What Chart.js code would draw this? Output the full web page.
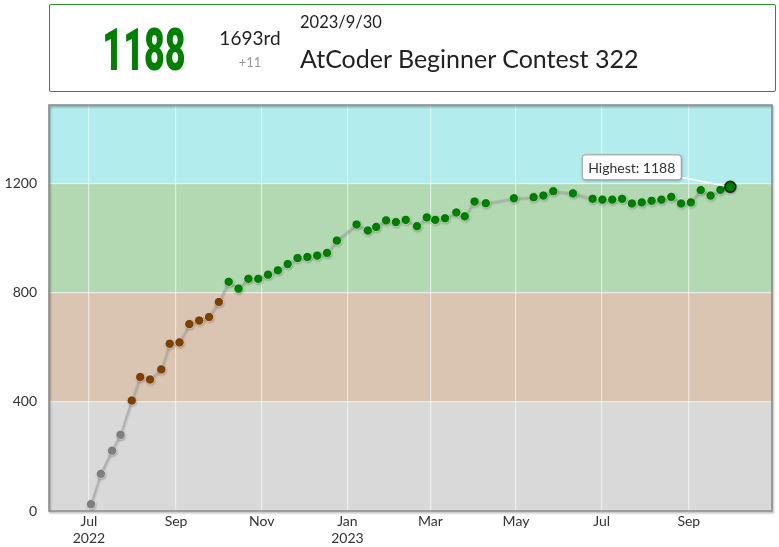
<!DOCTYPE html>
<html>
<head>
<meta charset="utf-8">
<script src="https://cdn.jsdelivr.net/npm/chart.js@4.4.0/dist/chart.umd.min.js"></script>
<style>
  html, body { margin: 0; padding: 0; background: #fff; }
  body { width: 779px; height: 547px; position: relative; overflow: hidden; font-family: Lato, "Open Sans", sans-serif; }
  #chart { position: absolute; left: 0; top: 0; }
  #head { position: absolute; left: 49px; top: 4px; width: 725px; height: 86px; border: 1px solid #2a8f2a; border-radius: 2px; }
  .t { position: absolute; white-space: nowrap; line-height: 1; }
</style>
</head>
<body>
<canvas id="chart" width="779" height="547"></canvas>
<div id="head"></div>
<div class="t" id="rating" style="left:144px; top:20px; font-family: Roboto, sans-serif; font-weight:900; font-size:60px; color:#008000; transform: translateX(-50%) scaleX(0.6);">1188</div>
<div class="t" id="rank" style="left:250px; top:28px; font-size:19px; color:#222; transform: translateX(-50%);">1693rd</div>
<div class="t" id="diff" style="left:250px; top:56px; font-size:13px; color:#999; transform: translateX(-50%);">+11</div>
<div class="t" id="date" style="left:300px; top:14px; font-size:16.5px; color:#222;">2023/9/30</div>
<div class="t" id="contest" style="left:300px; top:46px; font-size:25px; color:#222;">AtCoder Beginner Contest 322</div>
<script>
// ---- data ----
const contestDates = ["2022-07-02","2022-07-09","2022-07-17","2022-07-23","2022-07-31","2022-08-06","2022-08-13","2022-08-21","2022-08-27","2022-09-03","2022-09-10","2022-09-17","2022-09-24","2022-10-01","2022-10-08","2022-10-15","2022-10-22","2022-10-29","2022-11-05","2022-11-12","2022-11-19","2022-11-26","2022-12-03","2022-12-10","2022-12-17","2022-12-24","2023-01-07","2023-01-15","2023-01-21","2023-01-28","2023-02-04","2023-02-11","2023-02-19","2023-02-26","2023-03-04","2023-03-11","2023-03-19","2023-03-25","2023-04-01","2023-04-09","2023-04-29","2023-05-13","2023-05-20","2023-05-27","2023-06-10","2023-06-24","2023-07-01","2023-07-08","2023-07-15","2023-07-22","2023-07-29","2023-08-05","2023-08-12","2023-08-19","2023-08-26","2023-09-02","2023-09-09","2023-09-16","2023-09-23","2023-09-30"];
const ratings = [25,136,221,279,405,491,482,519,613,618,685,698,711,766,840,815,851,851,866,882,905,927,931,936,946,991,1050,1028,1041,1065,1059,1067,1044,1076,1067,1073,1094,1080,1134,1128,1146,1150,1156,1172,1164,1144,1141,1141,1144,1127,1131,1137,1141,1151,1127,1131,1176,1156,1177,1188];
const yTicks = [0, 400, 800, 1200];
const xTickDates = ["2022-07-01","2022-09-01","2022-11-01","2023-01-01","2023-03-01","2023-05-01","2023-07-01","2023-09-01"];
const xTickLabels = [["Jul","2022"],["Sep"],["Nov"],["Jan","2023"],["Mar"],["May"],["Jul"],["Sep"]];
const bandBounds = [0, 400, 800, 1200];
const bandColors = ["rgba(128,128,128,0.3)","rgba(128,64,0,0.3)","rgba(0,128,0,0.3)","rgba(0,192,192,0.3)"];
const highestLabel = "Highest: 1188";

function toMs(s, h) { const p = s.split("-").map(Number); return Date.UTC(p[0], p[1]-1, p[2], h || 0); }
const points = contestDates.map((d, i) => ({ x: toMs(d, 12), y: ratings[i] }));
const highestIdx = ratings.indexOf(Math.max(...ratings));
const xTickVals = xTickDates.map(d => toMs(d, 0));

function rateColor(v) {
  if (v < 400) return "#808080";
  if (v < 800) return "#804000";
  return "#008000";
}

const bgPlugin = {
  id: "bands",
  beforeDraw(chart) {
    const { ctx, chartArea: a, scales: { y } } = chart;
    ctx.save();
    for (let i = 0; i < bandBounds.length; i++) {
      const lo = y.getPixelForValue(bandBounds[i]);
      const hi = i + 1 < bandBounds.length ? y.getPixelForValue(bandBounds[i+1]) : a.top;
      const t = Math.max(hi, a.top), b = Math.min(lo, a.bottom);
      ctx.fillStyle = "#fff";
      ctx.fillRect(a.left, t, a.right - a.left, b - t);
      ctx.fillStyle = bandColors[i];
      ctx.fillRect(a.left, t, a.right - a.left, b - t);
    }
    ctx.restore();
  },
  beforeDatasetsDraw(chart) {
    const { ctx, chartArea: a } = chart;
    ctx.save();
    ctx.shadowColor = "rgba(0,0,0,0.35)";
    ctx.shadowBlur = 2;
    ctx.shadowOffsetX = 1;
    ctx.shadowOffsetY = 1.5;
    ctx.strokeStyle = "#888";
    ctx.lineWidth = 1.5;
    ctx.strokeRect(a.left, a.top, a.right - a.left, a.bottom - a.top);
    ctx.restore();
    ctx.save();
    ctx.shadowColor = "rgba(0,0,0,0.25)";
    ctx.shadowBlur = 2;
    ctx.shadowOffsetX = 0.5;
    ctx.shadowOffsetY = 1;
  },
  afterDatasetsDraw(chart) {
    const { ctx } = chart;
    ctx.restore();
    const el = chart.getDatasetMeta(0).data[highestIdx];
    const px = el.x, py = el.y;
    ctx.save();
    ctx.strokeStyle = "#fff";
    ctx.lineWidth = 1.5;
    ctx.beginPath();
    ctx.moveTo(px - 52, py - 10);
    ctx.lineTo(px - 6, py - 1);
    ctx.stroke();
    const bx = px - 148, by = py - 32, bw = 99, bh = 25;
    ctx.shadowColor = "rgba(0,0,0,0.3)";
    ctx.shadowBlur = 3;
    ctx.shadowOffsetX = 1;
    ctx.shadowOffsetY = 1;
    ctx.fillStyle = "#fff";
    ctx.beginPath();
    ctx.roundRect(bx, by, bw, bh, 3);
    ctx.fill();
    ctx.shadowColor = "transparent";
    ctx.strokeStyle = "#999";
    ctx.lineWidth = 1;
    ctx.stroke();
    ctx.fillStyle = "#333";
    ctx.font = "14px Lato";
    ctx.textAlign = "center";
    ctx.textBaseline = "middle";
    ctx.fillText(highestLabel, bx + bw / 2, by + bh / 2 + 1);
    ctx.restore();
  }
};

new Chart(document.getElementById("chart"), {
  type: "line",
  data: {
    datasets: [{
      data: points,
      borderColor: "#b0b0b0",
      borderWidth: 1.6,
      tension: 0,
      pointRadius: c => c.dataIndex === highestIdx ? 5.5 : 4.6,
      pointBackgroundColor: c => rateColor(c.raw.y),
      pointBorderColor: c => c.dataIndex === highestIdx ? "#1a1a1a" : "rgba(255,255,255,0.55)",
      pointBorderWidth: c => c.dataIndex === highestIdx ? 1.5 : 1
    }]
  },
  options: {
    responsive: false,
    animation: false,
    events: [],
    layout: { padding: { top: 105, right: 5, left: 0, bottom: 0 } },
    plugins: { legend: { display: false }, tooltip: { enabled: false } },
    scales: {
      x: {
        type: "linear",
        min: Date.UTC(2022, 5, 2, 14),
        max: Date.UTC(2023, 9, 30, 5),
        afterBuildTicks: s => { s.ticks = xTickVals.map(v => ({ value: v })); },
        afterFit: s => { s.height = 36; },
        ticks: {
          autoSkip: false, maxRotation: 0, padding: 2,
          color: "#333", font: { family: "Lato", size: 14 },
          callback: (v, i) => xTickLabels[i]
        },
        grid: { color: "rgba(255,255,255,0.55)", lineWidth: 1.2, drawTicks: false },
        border: { display: false }
      },
      y: {
        min: 0, max: 1488,
        afterBuildTicks: s => { s.ticks = yTicks.map(v => ({ value: v })); },
        afterFit: s => { s.width = 49; },
        ticks: { padding: 12, color: "#333", font: { family: "Lato", size: 14 }, callback: v => String(v) },
        grid: { color: "rgba(255,255,255,0.55)", lineWidth: 1.2, drawTicks: false },
        border: { display: false }
      }
    }
  },
  plugins: [bgPlugin]
});
</script>
</body>
</html>
